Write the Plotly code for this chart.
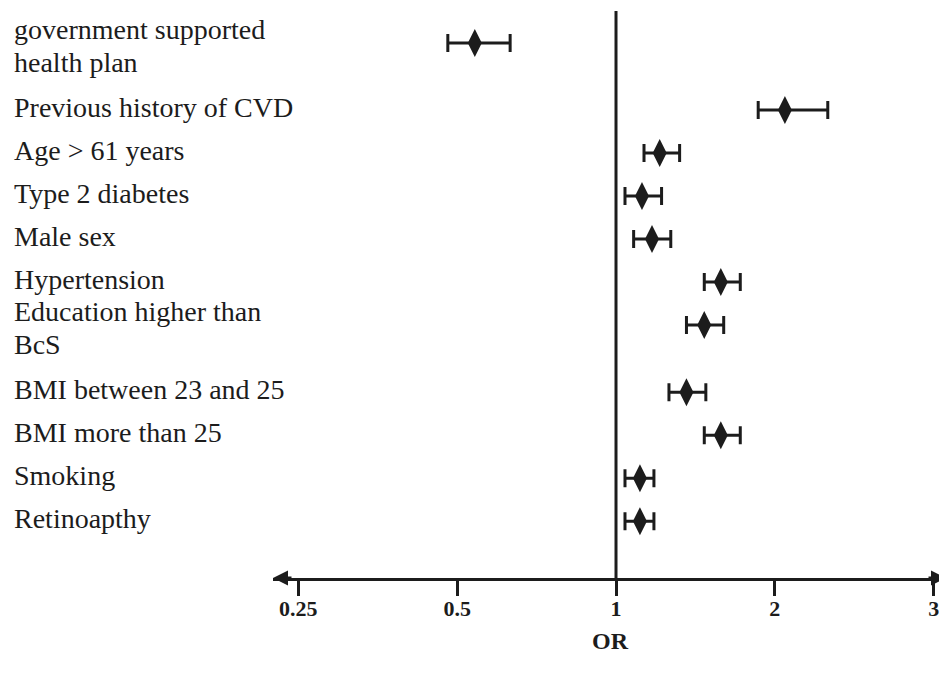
import math
import plotly.graph_objects as go

# ---- data ----
labels = [
    "government supported<br>health plan",
    "Previous history of CVD",
    "Age > 61 years",
    "Type 2 diabetes",
    "Male sex",
    "Hypertension",
    "Education higher than<br>BcS",
    "BMI between 23 and 25",
    "BMI more than 25",
    "Smoking",
    "Retinoapthy",
]
odds_ratio = [0.54, 2.09, 1.21, 1.12, 1.17, 1.58, 1.47, 1.36, 1.58, 1.11, 1.11]
ci_low = [0.48, 1.86, 1.13, 1.04, 1.08, 1.47, 1.36, 1.26, 1.47, 1.04, 1.04]
ci_high = [0.63, 2.52, 1.32, 1.22, 1.27, 1.72, 1.60, 1.48, 1.72, 1.18, 1.18]
tick_values = [0.25, 0.5, 1, 2, 4]
tick_labels = ["0.25", "0.5", "1", "2", "3"]
axis_title = "OR"

# ---- layout constants (page has an 8px body margin) ----
W, H = 939, 672
ML, MR, MT, MB = 265, 0, 3, 102
INK = "#1c1c1c"
SERIF = "Liberation Serif"
ROW_PX = 43          # pixel height of one row unit
EXTRA_AFTER_WRAP = 0.56  # extra row units after a two-line label
LINE_PX = 33         # line spacing inside a wrapped label
LABEL_SIZE = 28

plot_w = W - ML - MR
plot_h = H - MT - MB
n = len(labels)

# row positions derived from the number of lines in each label
row_pos = [0.0]
for lab in labels[:-1]:
    extra = EXTRA_AFTER_WRAP * (len(lab.split("<br>")) - 1)
    row_pos.append(row_pos[-1] + 1.0 + extra)

y_top = -32 / ROW_PX
y_bot = y_top + plot_h / ROW_PX

fig = go.Figure()
fig.add_trace(go.Scatter(
    x=odds_ratio,
    y=row_pos,
    mode="markers",
    marker=dict(symbol="diamond-tall", size=20, color=INK, line=dict(width=0)),
    error_x=dict(
        type="data", symmetric=False,
        array=[h - o for h, o in zip(ci_high, odds_ratio)],
        arrayminus=[o - l for o, l in zip(odds_ratio, ci_low)],
        color=INK, thickness=3, width=9,
    ),
    showlegend=False,
    hoverinfo="skip",
    cliponaxis=False,
))

# reference line at OR = 1
fig.add_shape(type="line", xref="x", yref="paper", x0=1, x1=1, y0=0, y1=1,
              line=dict(color=INK, width=3))

# left-aligned category labels (wrapped labels drawn line by line)
label_x = -(ML - 4) / plot_w
for yp, lab in zip(row_pos, labels):
    lines = lab.split("<br>")
    k = len(lines)
    base = 3 if k == 1 else -3
    for j, line in enumerate(lines):
        shift = ((k - 1) / 2 - j) * LINE_PX + base
        fig.add_annotation(
            x=label_x, xref="paper", y=yp, yref="y", text=line, showarrow=False,
            xanchor="left", yanchor="middle", align="left", yshift=shift,
            font=dict(family=SERIF, size=LABEL_SIZE, color=INK),
        )

# arrowheads at both ends of the x axis
for xp, axp in [(0, 20), (1, -20)]:
    fig.add_annotation(
        x=xp, y=0, xref="paper", yref="paper", ax=axp, ay=0, text="",
        showarrow=True, arrowhead=2, arrowsize=1.0, arrowwidth=3,
        arrowcolor=INK, standoff=0, startstandoff=0,
    )

fig.update_layout(
    width=W, height=H,
    margin=dict(l=ML, r=MR, t=MT, b=MB),
    paper_bgcolor="white", plot_bgcolor="white",
    xaxis=dict(
        type="log",
        range=[math.log10(0.2238), math.log10(4.24)],
        tickvals=tick_values, ticktext=tick_labels,
        ticks="outside", ticklen=15, tickwidth=3, tickcolor=INK,
        ticklabelstandoff=-6,
        showline=True, linewidth=3, linecolor=INK,
        showgrid=False, zeroline=False,
        tickfont=dict(family=SERIF, size=22, color=INK, weight="bold"),
        title=dict(text=axis_title, standoff=12,
                   font=dict(family=SERIF, size=24, color=INK, weight="bold")),
    ),
    yaxis=dict(
        range=[y_bot, y_top],
        showticklabels=False, showgrid=False, zeroline=False,
        showline=False, ticks="",
    ),
)

fig.write_html("out.html")
